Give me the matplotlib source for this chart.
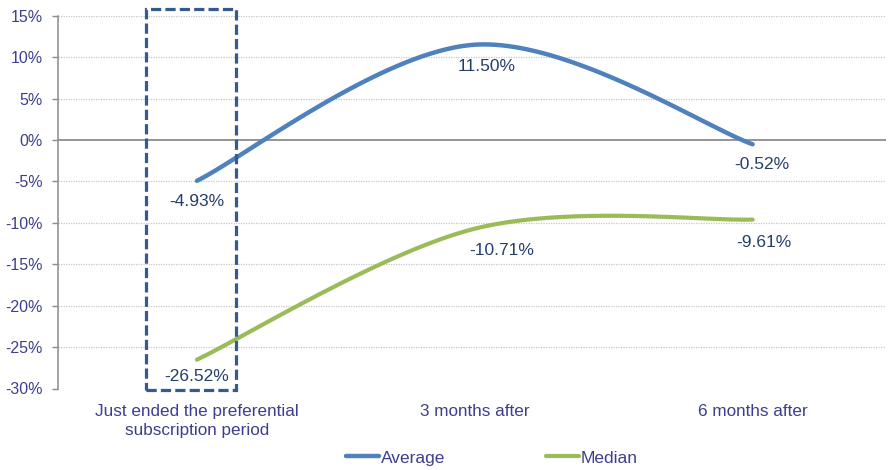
import numpy as np
import matplotlib
matplotlib.use("Agg")
import matplotlib.pyplot as plt
from matplotlib.patches import Rectangle
from matplotlib.ticker import FuncFormatter

plt.rcParams['font.family'] = ['Liberation Sans', 'DejaVu Sans']

categories = ["Just ended the preferential\nsubscription period", "3 months after", "6 months after"]
average = [-4.93, 11.50, -0.52]
median = [-26.52, -10.71, -9.61]
y_ticks = [15, 10, 5, 0, -5, -10, -15, -20, -25, -30]

BLUE = "#4F81BD"
GREEN = "#9BBB59"
AXIS_TEXT = "#3E3E8E"
LABEL_TEXT = "#243F66"
BOX = "#335B8C"


def smooth(xs, ys, n=60):
    """Catmull-Rom style cubic Bezier smoothing through every point."""
    p = np.column_stack([xs, ys]).astype(float)
    m = len(p)
    out = []
    for i in range(m - 1):
        p0 = p[max(i - 1, 0)]
        p1 = p[i]
        p2 = p[i + 1]
        p3 = p[min(i + 2, m - 1)]
        c1 = p1 + (p2 - p0) / 6.0
        c2 = p2 - (p3 - p1) / 6.0
        t = np.linspace(0, 1, n)[:, None]
        seg = ((1 - t) ** 3) * p1 + 3 * ((1 - t) ** 2) * t * c1 \
            + 3 * (1 - t) * t ** 2 * c2 + t ** 3 * p2
        out.append(seg if i == 0 else seg[1:])
    pts = np.vstack(out)
    return pts[:, 0], pts[:, 1]


fig = plt.figure(figsize=(8.89, 4.70), dpi=100)
ax = fig.add_axes([58 / 889, 1 - 388.5 / 470, (886 - 58) / 889, (388.5 - 15.7) / 470])

x = np.arange(len(categories))
ax.set_xlim(-0.5, 2.48)
ax.set_ylim(-30, 15)

# grid
for v in y_ticks:
    if v == 0:
        ax.axhline(v, color="#8C8C8C", lw=1.3, zorder=1)
    else:
        ax.axhline(v, color="#C8C8C8", lw=0.9, ls=(0, (1, 1)), zorder=1)

xa, ya = smooth(x, average)
xm, ym = smooth(x, median)
ax.plot(xa, ya, color=BLUE, lw=3.2, solid_capstyle="round", zorder=3, label="Average")
ax.plot(xm, ym, color=GREEN, lw=3.0, solid_capstyle="round", zorder=3, label="Median")

# value labels below each point (offsets in pixels)
avg_off = [(0, -21), (12, -22), (9, -20)]
med_off = [(0, -17), (27, -22), (11, -23)]
for vals, offs in ((average, avg_off), (median, med_off)):
    for xi, v, (dx, dy) in zip(x, vals, offs):
        ax.annotate(f"{v:.2f}%", (xi, v), xytext=(dx * 0.72, dy * 0.72),
                    textcoords="offset points", ha="center", va="center",
                    fontsize=12.5, color=LABEL_TEXT, zorder=5)

# dashed highlight box around the first period
box = Rectangle((-0.185, -30.2), 0.327, 46.05, fill=False, ec=BOX, lw=2.3,
                ls=(0, (3.2, 1.3)), clip_on=False, zorder=4)
ax.add_patch(box)

ax.set_yticks(y_ticks)
ax.yaxis.set_major_formatter(FuncFormatter(lambda v, _: f"{int(v)}%"))
ax.set_xticks(x)
ax.set_xticklabels(categories, linespacing=1.35)
ax.tick_params(axis="y", length=4, width=1, color="#8C8C8C", pad=7,
               labelsize=11.5, labelcolor=AXIS_TEXT)
ax.tick_params(axis="x", length=0, pad=11, labelsize=12.3, labelcolor=AXIS_TEXT)

for s in ("top", "right", "bottom"):
    ax.spines[s].set_visible(False)
ax.spines["left"].set_color("#8C8C8C")
ax.spines["left"].set_linewidth(1.1)

leg = fig.legend(loc="center", bbox_to_anchor=(492 / 889, 1 - 458 / 470), ncol=2,
                 frameon=False, fontsize=12.5, handlelength=1.9, handletextpad=0.12,
                 columnspacing=5.8)
for t in leg.get_texts():
    t.set_color(AXIS_TEXT)

fig.savefig("out.png", dpi=100)
